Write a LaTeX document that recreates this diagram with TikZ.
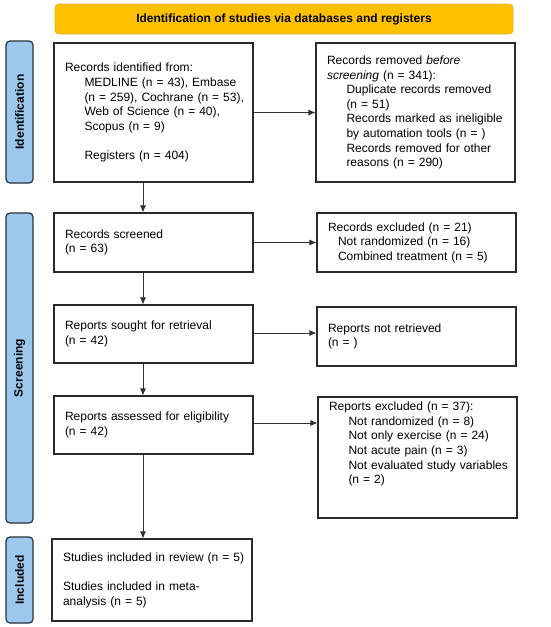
\documentclass[tikz,border=0pt]{standalone}
\usepackage{fontspec}
\setmainfont{Liberation Sans}
\usetikzlibrary{arrows.meta}
\definecolor{gold}{HTML}{FFC000}
\definecolor{goldline}{HTML}{E8B020}
\definecolor{sideblue}{HTML}{9DC8EE}
\definecolor{sideline}{HTML}{24303C}
\definecolor{boxline}{HTML}{2A2A2A}
\definecolor{arrline}{HTML}{333333}
\newcommand\Ind{\hspace*{19.5pt}}
\begin{document}
\begin{tikzpicture}[x=1pt,y=-1pt,
  every node/.style={font=\fontsize{12}{14.6}\selectfont, text=black},
  box/.style={draw=boxline, line width=1.1pt, rectangle, inner xsep=11pt, inner ysep=0pt,
    text width=177pt, minimum width=199pt, align=left},
  side/.style={draw=sideline, fill=sideblue, line width=1.2pt, rounded corners=4pt,
    rotate=90, minimum height=27pt, inner sep=0pt, font=\fontsize{12}{14}\selectfont\bfseries},
  banner/.style={draw=goldline, fill=gold, line width=0.8pt, rounded corners=4pt,
    minimum width=458pt, minimum height=30pt, inner sep=0pt, font=\fontsize{12}{14}\selectfont\bfseries},
  arr/.style={draw=arrline, line width=0.8pt, -{Latex[length=7pt,width=6pt]}}
]
\useasboundingbox (0,0) rectangle (550,627);

\node[banner] (ban) at (284,19) {Identification of studies via databases and registers};

\node[side, minimum width=142pt] (idl) at (19.5,112) {Identification};
\node[side, minimum width=310pt] (scl) at (19.5,368) {Screening};
\node[side, minimum width=86pt] (inl) at (19.5,580) {Included};

\node[box, minimum height=139pt] (b1) at (153.5,112.5) {Records identified from:\\
\Ind MEDLINE (n = 43), Embase\\
\Ind \mbox{(n = 259), Cochrane (n = 53),}\\
\Ind Web of Science (n = 40),\\
\Ind Scopus (n = 9)\\[14.6pt]
\Ind Registers (n = 404)};

\node[box, minimum height=139pt] (b2) at (415.5,112.5) {Records removed \textit{before}\\
\textit{screening} (n = 341):\\
\Ind Duplicate records removed\\
\Ind (n = 51)\\
\Ind \mbox{Records marked as ineligible}\\
\Ind \mbox{by automation tools (n = )}\\
\Ind Records removed for other\\
\Ind reasons (n = 290)};

\node[box, minimum height=59pt] (b3) at (153.5,242.5) {Records screened\\(n = 63)};

\node[box, minimum height=59pt] (b4) at (416.5,242.5) {Records excluded (n = 21)\\
\hspace*{10pt}Not randomized (n = 16)\\
\hspace*{10pt}Combined treatment (n = 5)};

\node[box, minimum height=58pt] (b5) at (153.5,334) {Reports sought for retrieval\\(n = 42)};

\node[box, minimum height=59pt] (b6) at (416.5,336.5) {Reports not retrieved\\(n = )};

\node[box, minimum height=58pt] (b7) at (153.5,425) {\mbox{Reports assessed for eligibility}\\(n = 42)};

\node[box, minimum height=121pt] (b8) at (417.5,457.5) {Reports excluded (n = 37):\\
\Ind Not randomized (n = 8)\\
\Ind Not only exercise (n = 24)\\
\Ind Not acute pain (n = 3)\\
\Ind \mbox{Not evaluated study variables}\\
\Ind (n = 2)\\[14.6pt]\mbox{}};

\node[box, minimum height=82pt, minimum width=200pt, text width=178pt] (b9) at (152,580) {\mbox{Studies included in review (n = 5)}\\[14.6pt]
Studies included in meta-\\
analysis (n = 5)};

% horizontal arrows
\draw[arr] (b1.east) -- (b2.west);
\draw[arr] (b3.east) -- (b4.west);
\draw[arr] ([yshift=1pt]b5.east) -- ([yshift=1pt]b5.east -| b6.west);
\draw[arr] ([yshift=2pt]b7.east) -- ([yshift=2pt]b7.east -| b8.west);
% vertical arrows
\draw[arr] ([xshift=-10.5pt]b1.south) -- ([xshift=-10.5pt]b1.south |- b3.north);
\draw[arr] ([xshift=-10.5pt]b3.south) -- ([xshift=-10.5pt]b3.south |- b5.north);
\draw[arr] ([xshift=-10.5pt]b5.south) -- ([xshift=-10.5pt]b5.south |- b7.north);
\draw[arr] ([xshift=-10.5pt]b7.south) -- ([xshift=-10.5pt]b7.south |- b9.north);
\end{tikzpicture}
\end{document}
